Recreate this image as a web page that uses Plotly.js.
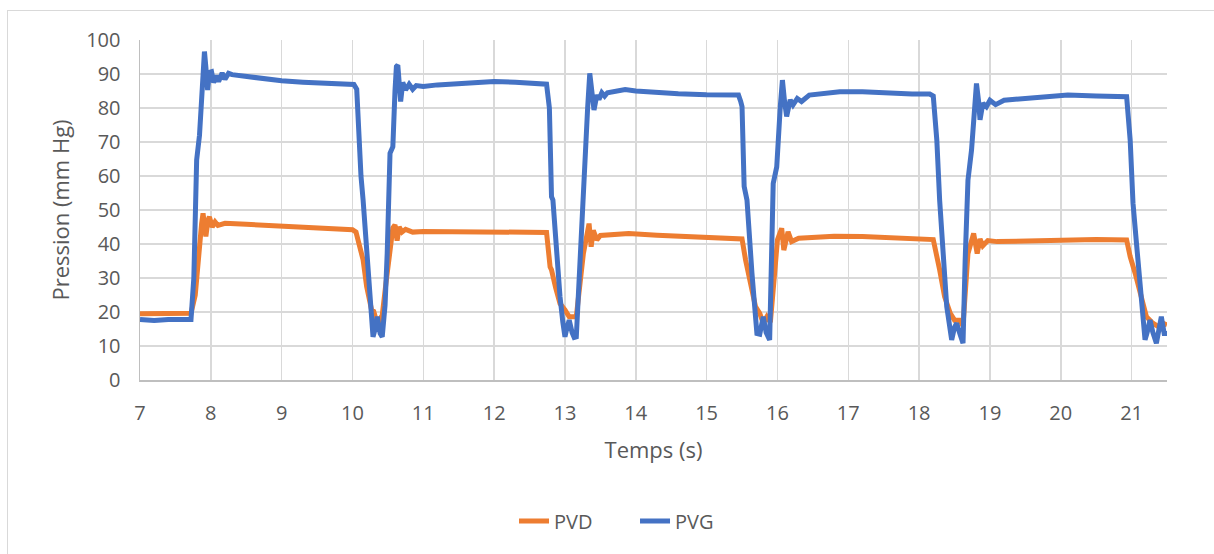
<!DOCTYPE html>
<html>
<head>
<meta charset="utf-8">
<script src="https://cdn.plot.ly/plotly-3.0.1.min.js"></script>
<style>
  html, body { margin:0; padding:0; background:#fff; }
  #wrap { position:relative; width:1214px; height:554px; overflow:hidden; }
  #frame { position:absolute; left:7px; top:10px; width:1240px; height:600px; border:1.5px solid #D9D9D9; box-sizing:border-box; pointer-events:none; }
  #chart { position:absolute; left:0; top:0; width:1214px; height:554px; }
</style>
</head>
<body>
<div id="wrap">
  <div id="chart"></div>
  <div id="frame"></div>
</div>
<script>
// ---- Data ----
const pvgTime = [7.0,7.2,7.4,7.6,7.72,7.76,7.79,7.8,7.84,7.86,7.89,7.91,7.93,7.955,7.98,8.01,8.04,8.08,8.11,8.16,8.2,8.25,8.3,8.4,8.5,8.7,9.0,9.3,9.6,9.9,10.02,10.06,10.1,10.12,10.15,10.2,10.25,10.29,10.32,10.35,10.39,10.42,10.46,10.49,10.53,10.57,10.6,10.62,10.64,10.68,10.71,10.75,10.8,10.85,10.9,11.0,11.2,11.5,11.8,12.0,12.3,12.6,12.74,12.78,12.79,12.81,12.83,12.88,12.93,12.97,13.0,13.03,13.06,13.1,13.13,13.16,13.2,13.24,13.28,13.32,13.35,13.38,13.41,13.45,13.48,13.52,13.56,13.6,13.7,13.85,14.0,14.3,14.6,15.0,15.3,15.45,15.48,15.5,15.53,15.57,15.64,15.71,15.75,15.8,15.84,15.89,15.94,15.99,16.04,16.07,16.1,16.13,16.18,16.22,16.28,16.34,16.45,16.65,16.88,17.2,17.6,17.9,18.15,18.2,18.25,18.29,18.39,18.46,18.5,18.53,18.57,18.62,18.65,18.69,18.74,18.78,18.81,18.84,18.86,18.9,18.95,19.0,19.08,19.2,19.5,19.8,20.1,20.5,20.8,20.93,20.98,21.02,21.07,21.12,21.19,21.22,21.26,21.3,21.35,21.42,21.46,21.5];
const pvgValues = [17.8,17.5,17.8,17.6,17.8,30,55,64.7,72,80,93,96.6,92,85.3,90.5,90.7,87.5,89.5,87.8,90.3,88.5,90.2,89.8,89.5,89.2,88.6,88.0,87.6,87.3,87.0,86.9,85.5,64.7,60,52.9,38,24.5,12.7,15,18.6,13.7,12.7,22,37.2,66.7,68.6,85,92.2,92.6,81.9,87.5,85.3,87,85.5,86.6,86.3,86.8,87.3,87.6,87.8,87.6,87.3,87.0,80,70.6,53.9,52.9,38,24.5,17,12.7,15.5,17.6,14,12.5,12.7,30,51,62.7,80,90.2,85,79.4,83.8,82.5,84.5,83.5,84.5,85,85.4,85.0,84.5,84.2,83.9,83.7,83.8,82,80.4,56.9,52.9,31.4,13.7,13.5,18.6,14,11.8,57.8,62.7,80.4,88.2,82,77.5,82.4,80.9,82.8,81.9,83.8,84.3,84.8,84.8,84.3,84.1,84.1,83.5,70.6,52.9,21.6,11.8,15.5,16.7,14,10.8,35,58.8,67.6,80,87.2,82,76.5,81.4,80.4,82.3,81,82.3,82.8,83.3,83.8,83.5,83.5,83.3,70.6,52,40,29.4,11.8,14,17.6,14,10.8,18.6,13.7,13.7];

const pvdTime = [7.0,7.3,7.6,7.72,7.78,7.83,7.87,7.89,7.93,7.96,7.98,8.02,8.06,8.1,8.2,8.5,9.0,9.5,10.0,10.05,10.1,10.15,10.2,10.27,10.3,10.33,10.36,10.39,10.42,10.47,10.53,10.57,10.6,10.63,10.66,10.7,10.75,10.85,11.0,11.5,12.0,12.5,12.74,12.79,12.81,12.87,12.93,13.0,13.06,13.16,13.26,13.34,13.37,13.4,13.45,13.5,13.6,13.9,14.3,14.9,15.45,15.5,15.55,15.61,15.69,15.75,15.8,15.85,15.9,15.96,16.0,16.06,16.09,16.15,16.2,16.3,16.8,17.2,17.7,18.2,18.29,18.36,18.44,18.5,18.57,18.62,18.69,18.77,18.82,18.86,18.9,18.97,19.1,19.5,20.0,20.5,20.93,20.98,21.05,21.14,21.21,21.3,21.38,21.44,21.5];
const pvdValues = [19.5,19.6,19.4,19.6,25,38,46,49,42.2,47,48,45,46.5,45.5,46.1,45.8,45.2,44.7,44.2,43.5,39,35.3,27.5,20.6,20.2,17,15.7,18,19,28,37.2,44.7,45.6,41,45,43.5,44.3,43.5,43.7,43.6,43.8,43.6,43.4,33.3,32.4,27,22.5,20.6,18.6,18.6,37.2,46,39.2,44,41.2,42.5,42.6,43.1,42.6,42.2,41.9,41.5,35.3,29.4,21.6,19.6,16.7,18.6,17,31.4,41.2,44.6,38.2,43.6,40.7,41.7,42.3,42.2,41.8,41.3,32.4,24.5,19.6,17.6,17.6,16,37.2,43.1,37.2,41.5,39.5,41,40.7,40.9,41.3,41.3,41.2,36.3,31.4,23.5,18.6,16.7,15.7,16.7,16.2];

const seriesNames = ['PVD', 'PVG'];
const xTicks = [7,8,9,10,11,12,13,14,15,16,17,18,19,20,21];
const yTicks = [0,10,20,30,40,50,60,70,80,90,100];

const font = "'Open Sans', 'Noto Sans', sans-serif";
const txt = '#595959';

const traces = [
  { x: pvdTime, y: pvdValues, name: seriesNames[0], type: 'scatter', mode: 'lines',
    line: { color: '#ED7D31', width: 5 } },
  { x: pvgTime, y: pvgValues, name: seriesNames[1], type: 'scatter', mode: 'lines',
    line: { color: '#4472C4', width: 5 } }
];

const layout = {
  width: 1214, height: 554,
  margin: { l: 140, r: 47, t: 40, b: 174 },
  paper_bgcolor: 'rgba(0,0,0,0)', plot_bgcolor: '#fff',
  font: { family: font, color: txt, size: 20 },
  showlegend: true,
  legend: { orientation: 'h', x: 0.482, xanchor: 'center', y: -0.415, yanchor: 'middle',
            entrywidth: 76, entrywidthmode: 'pixels',
            font: { family: font, size: 20, color: txt }, traceorder: 'normal' },
  xaxis: {
    range: [7, 21.5], tickvals: xTicks, ticktext: xTicks.map(String),
    showgrid: true, gridcolor: '#D9D9D9', gridwidth: 1.5,
    showline: true, linecolor: '#BFBFBF', linewidth: 1.5,
    ticks: '', zeroline: false, ticklabelstandoff: 14,
    tickfont: { family: font, size: 20, color: txt },
    title: { text: 'Temps (s)', font: { family: font, size: 22, color: txt }, standoff: 18 }
  },
  yaxis: {
    range: [0, 100], tickvals: yTicks, ticktext: yTicks.map(String),
    showgrid: true, gridcolor: '#D9D9D9', gridwidth: 1.5,
    showline: true, linecolor: '#BFBFBF', linewidth: 1.5,
    ticks: '', zeroline: false, ticklabelstandoff: 14,
    tickfont: { family: font, size: 20, color: txt },
    title: { text: 'Pression (mm Hg)', font: { family: font, size: 22, color: txt }, standoff: 10 }
  }
};

Plotly.newPlot('chart', traces, layout, { displayModeBar: false, staticPlot: true });
</script>
</body>
</html>
